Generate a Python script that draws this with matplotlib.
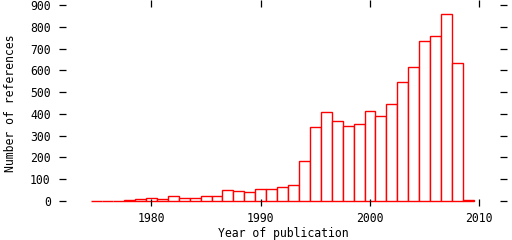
import matplotlib
matplotlib.use("Agg")
import matplotlib.pyplot as plt

years = list(range(1975, 2010))
counts = [0, 0, 0, 3, 8, 12, 8, 22, 12, 12, 22, 21, 49, 45, 40, 54, 54, 63, 73,
          182, 340, 407, 366, 343, 352, 412, 389, 444, 545, 614, 733, 756, 857,
          632, 4]
xticks = [1980, 1990, 2000, 2010]
yticks = [0, 100, 200, 300, 400, 500, 600, 700, 800, 900]

plt.rcParams['font.family'] = ['DejaVu Sans Mono']
fig = plt.figure(figsize=(5.12, 2.40), dpi=100)
ax = fig.add_axes([59/512, 34/240, 448/512, 206/240])

ax.bar(years, counts, width=1.0, color='white', edgecolor='#ff0000',
       linewidth=1.0, align='center')

ax.set_xlim(1971.55, 2012.53)
ax.set_ylim(-5*900/196, 900 + 5*900/196)
ax.set_xticks(xticks)
ax.set_yticks(yticks)
for s in ax.spines.values():
    s.set_visible(False)
ax.tick_params(axis='both', direction='in', length=5, width=0.9,
               top=True, right=True, labelsize=8.3, colors='black')
ax.tick_params(axis='y', pad=6)
ax.tick_params(axis='x', pad=4)
fig.text(283/512, 1 - 233/240, 'Year of publication', fontsize=8.3,
         ha='center', va='center')
fig.text(11/512, 1 - 103/240, 'Number of references', fontsize=8.3,
         ha='center', va='center', rotation=90)

fig.savefig('out.png', dpi=100)
